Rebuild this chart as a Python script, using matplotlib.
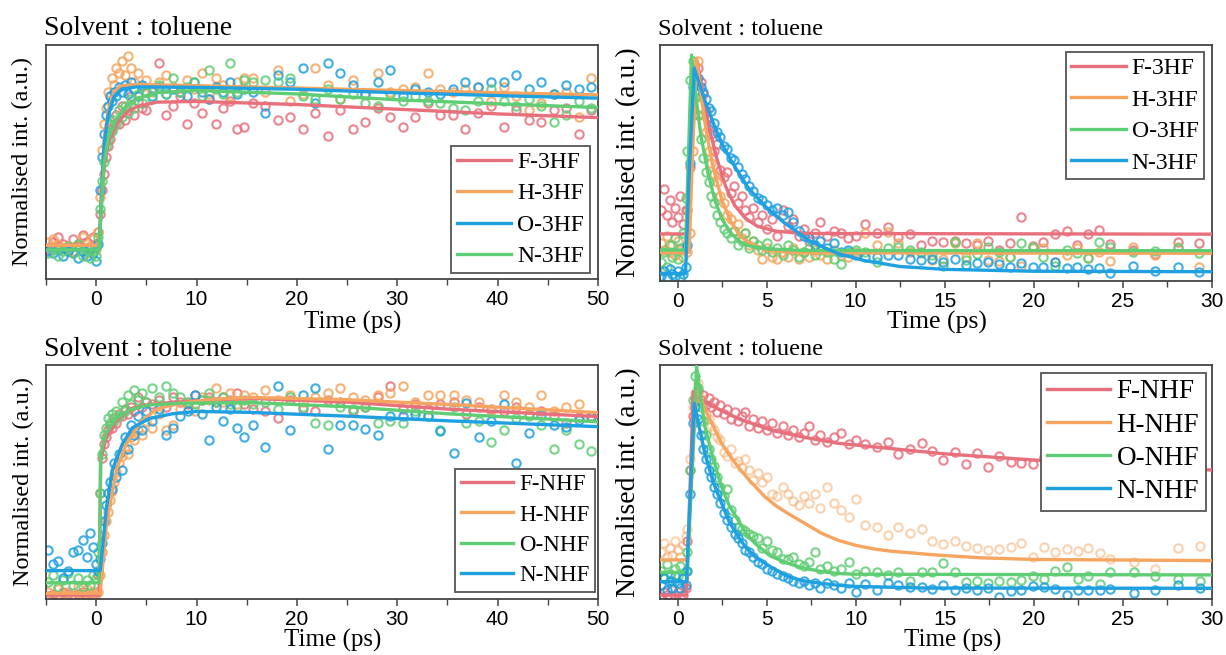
import matplotlib.pyplot as plt
from matplotlib.ticker import MultipleLocator

plt.rcParams['font.family'] = ['Liberation Serif', 'DejaVu Serif']

RED = '#e8707d'
ORANGE = '#f5a55f'
GREEN = '#5fcd73'
BLUE = '#1ea0e1'

# delay grids (ps)
t_long = [-4.8, -4.3, -3.8, -3.3, -2.8, -2.3, -1.8, -1.3, -0.9, -0.6, -0.3, 0.0,
          0.2, 0.4, 0.6, 0.8, 1.0, 1.2, 1.4, 1.6, 1.8, 2.0, 2.3, 2.6, 2.9, 3.2, 3.5, 3.8, 4.2, 4.6, 5.0,
          5.6, 6.3, 7.0, 7.7, 8.4, 9.1, 9.8, 10.5, 11.2, 11.9, 12.6, 13.3, 14.0, 14.7,
          15.6, 16.8, 18.1, 19.3, 20.6, 21.8, 23.1, 24.3, 25.6, 26.8, 28.1, 29.3, 30.6, 31.8,
          33.1, 34.3, 35.6, 36.8, 38.1, 39.3, 40.6, 41.8, 43.1, 44.3, 45.6, 46.8, 48.1, 49.3]

t_short = [-0.9, -0.75, -0.6, -0.45, -0.3, -0.15, 0.0, 0.15, 0.3, 0.45,
           0.55, 0.7, 0.85, 1.0, 1.15, 1.3, 1.45, 1.6, 1.75, 1.9, 2.05, 2.2, 2.4, 2.6, 2.8,
           3.0, 3.2, 3.4, 3.6, 3.8, 4.0, 4.25, 4.5, 4.75, 5.0, 5.3, 5.6, 5.9, 6.2, 6.5,
           6.8, 7.1, 7.4, 7.7, 8.0, 8.4, 8.8, 9.2, 9.6, 10.0,
           10.55, 11.2, 11.8, 12.4, 13.05, 13.7, 14.3, 14.9, 15.6, 16.2, 16.8, 17.45, 18.05, 18.7,
           19.3, 19.95, 20.55, 21.2, 21.85, 22.45, 23.05, 23.7, 24.3, 25.6, 26.8, 28.1, 29.3]

# ---- top left: 3HF rise ----
a_f = [0.13, 0.16, 0.18, 0.15, 0.12, 0.17, 0.14, 0.19, 0.16, 0.13, 0.18, 0.15,
       0.20, 0.28, 0.38, 0.45, 0.52, 0.57, 0.60, 0.64, 0.66, 0.70, 0.66, 0.74, 0.68, 0.72, 0.78, 0.70, 0.76, 0.73, 0.72,
       0.81, 0.92, 0.70, 0.74, 0.78, 0.66, 0.75, 0.71, 0.77, 0.66, 0.73, 0.76, 0.64, 0.65,
       0.75, 0.74, 0.68, 0.69, 0.64, 0.71, 0.61, 0.72, 0.64, 0.67, 0.73, 0.69, 0.65, 0.69,
       0.75, 0.70, 0.70, 0.64, 0.71, 0.74, 0.65, 0.72, 0.68, 0.67, 0.72, 0.73, 0.62, 0.72]
a_h = [0.16, 0.17, 0.15, 0.13, 0.14, 0.12, 0.15, 0.18, 0.11, 0.14, 0.17, 0.13,
       0.20, 0.35, 0.55, 0.66, 0.73, 0.80, 0.78, 0.86, 0.83, 0.90, 0.88, 0.93, 0.87, 0.95, 0.90, 0.84, 0.88, 0.82, 0.85,
       0.80, 0.84, 0.87, 0.82, 0.80, 0.85, 0.81, 0.88, 0.79, 0.86, 0.83, 0.78, 0.84, 0.86,
       0.86, 0.80, 0.89, 0.76, 0.79, 0.90, 0.83, 0.77, 0.85, 0.79, 0.88, 0.80, 0.81, 0.82,
       0.88, 0.81, 0.80, 0.81, 0.82, 0.76, 0.82, 0.78, 0.72, 0.75, 0.79, 0.80, 0.69, 0.86]
a_o = [0.12, 0.11, 0.13, 0.10, 0.12, 0.11, 0.09, 0.12, 0.10, 0.13, 0.11, 0.08,
       0.15, 0.38, 0.52, 0.62, 0.70, 0.74, 0.78, 0.76, 0.80, 0.78, 0.82, 0.80, 0.83, 0.79, 0.84, 0.81, 0.78, 0.83, 0.80,
       0.78, 0.82, 0.79, 0.81, 0.80, 0.78, 0.84, 0.80, 0.77, 0.82, 0.80, 0.84, 0.79, 0.81,
       0.80, 0.71, 0.87, 0.84, 0.90, 0.75, 0.92, 0.88, 0.83, 0.79, 0.84, 0.89, 0.78, 0.81,
       0.80, 0.79, 0.81, 0.84, 0.82, 0.84, 0.84, 0.87, 0.81, 0.84, 0.79, 0.83, 0.81, 0.82]
a_n = [0.11, 0.13, 0.10, 0.12, 0.14, 0.11, 0.15, 0.10, 0.13, 0.09, 0.12, 0.10,
       0.18, 0.30, 0.42, 0.50, 0.57, 0.60, 0.66, 0.63, 0.68, 0.66, 0.72, 0.69, 0.74, 0.71, 0.77, 0.73, 0.79, 0.75, 0.80,
       0.77, 0.83, 0.79, 0.86, 0.80, 0.82, 0.84, 0.78, 0.89, 0.81, 0.79, 0.92, 0.80, 0.85,
       0.84, 0.85, 0.84, 0.86, 0.78, 0.77, 0.81, 0.77, 0.79, 0.75, 0.74, 0.79, 0.76, 0.78,
       0.76, 0.75, 0.73, 0.72, 0.76, 0.81, 0.76, 0.74, 0.77, 0.74, 0.67, 0.70, 0.76, 0.73]

a_fit_f_t = [-5, 0.3, 0.5, 0.8, 1.2, 2, 3, 4, 6, 10, 20, 30, 40, 50]
a_fit_f = [0.145, 0.145, 0.30, 0.48, 0.58, 0.66, 0.71, 0.735, 0.755, 0.758, 0.745, 0.725, 0.705, 0.689]
a_fit_h_t = [-5, 0.3, 0.5, 0.8, 1.2, 1.8, 2.5, 4, 10, 20, 30, 40, 50]
a_fit_h = [0.145, 0.145, 0.35, 0.60, 0.72, 0.80, 0.825, 0.83, 0.825, 0.815, 0.805, 0.795, 0.786]
a_fit_o_t = [-5, 0.3, 0.5, 0.8, 1.2, 1.8, 2.5, 4, 10, 20, 30, 40, 50]
a_fit_o = [0.125, 0.125, 0.33, 0.58, 0.70, 0.78, 0.81, 0.82, 0.818, 0.81, 0.795, 0.783, 0.772]
a_fit_n_t = [-5, 0.3, 0.5, 0.8, 1.2, 2, 3, 4, 6, 10, 20, 30, 40, 50]
a_fit_n = [0.125, 0.125, 0.30, 0.50, 0.60, 0.68, 0.74, 0.77, 0.795, 0.805, 0.79, 0.765, 0.748, 0.732]

# ---- top right: 3HF decay ----
b_f = [0.30, 0.39, 0.28, 0.34, 0.25, 0.31, 0.27, 0.36, 0.24, 0.30,
       0.30, 0.48, 0.70, 0.86, 0.90, 0.84, 0.79, 0.72, 0.66, 0.62, 0.55, 0.58, 0.47, 0.44, 0.46,
       0.37, 0.40, 0.33, 0.36, 0.30, 0.27, 0.31, 0.25, 0.28, 0.22, 0.26, 0.19, 0.30, 0.23, 0.26,
       0.19, 0.22, 0.17, 0.20, 0.25, 0.19, 0.21, 0.20, 0.18, 0.19,
       0.24, 0.20, 0.226, 0.186, 0.198, 0.15, 0.169, 0.164, 0.169, 0.16, 0.15, 0.17, 0.13, 0.16,
       0.268, 0.147, 0.165, 0.198, 0.21, 0.15, 0.198, 0.215, 0.154, 0.13, 0.113, 0.164, 0.158]
b_h = [0.16, 0.13, 0.19, 0.12, 0.15, 0.11, 0.17, 0.13, 0.10, 0.14,
       0.12, 0.20, 0.55, 0.88, 0.93, 0.78, 0.70, 0.63, 0.55, 0.50, 0.45, 0.42, 0.36, 0.33, 0.28,
       0.26, 0.21, 0.24, 0.18, 0.20, 0.15, 0.17, 0.13, 0.09, 0.14, 0.10, 0.09, 0.12, 0.10, 0.14,
       0.09, 0.12, 0.10, 0.13, 0.11, 0.09, 0.13, 0.11, 0.10, 0.12,
       0.20, 0.151, 0.208, 0.158, 0.12, 0.119, 0.088, 0.09, 0.158, 0.102, 0.158, 0.088, 0.085, 0.102,
       0.062, 0.137, 0.137, 0.081, 0.11, 0.137, 0.095, 0.12, 0.085, 0.141, 0.109, 0.141, 0.056]
b_o = [0.08, 0.12, 0.06, 0.15, 0.10, 0.18, 0.09, 0.14, 0.20, 0.35,
       0.55, 0.85, 0.93, 0.78, 0.70, 0.60, 0.52, 0.46, 0.42, 0.36, 0.33, 0.28, 0.25, 0.22, 0.20,
       0.18, 0.21, 0.15, 0.17, 0.20, 0.14, 0.17, 0.15, 0.13, 0.16, 0.12, 0.14, 0.11, 0.15, 0.13,
       0.10, 0.12, 0.14, 0.11, 0.13, 0.12, 0.09, 0.07, 0.12, 0.13,
       0.12, 0.08, 0.14, 0.141, 0.13, 0.123, 0.11, 0.062, 0.165, 0.088, 0.115, 0.141, 0.12, 0.099,
       0.158, 0.141, 0.102, 0.062, 0.13, 0.116, 0.095, 0.165, 0.141, 0.12, 0.127, 0.137, 0.116]
b_n = [0.02, 0.04, 0.01, 0.05, 0.03, 0.02, 0.04, 0.01, 0.03, 0.06,
       0.15, 0.50, 0.82, 0.88, 0.86, 0.82, 0.80, 0.77, 0.73, 0.72, 0.67, 0.63, 0.61, 0.57, 0.56,
       0.52, 0.51, 0.48, 0.45, 0.43, 0.40, 0.38, 0.35, 0.34, 0.32, 0.30, 0.31, 0.28, 0.29, 0.25,
       0.21, 0.19, 0.18, 0.15, 0.17, 0.14, 0.16, 0.12, 0.13, 0.11,
       0.10, 0.10, 0.11, 0.11, 0.09, 0.088, 0.092, 0.081, 0.092, 0.066, 0.076, 0.078, 0.071, 0.059,
       0.073, 0.059, 0.059, 0.081, 0.052, 0.056, 0.049, 0.052, 0.034, 0.062, 0.04, 0.059, 0.038]

b_fit_f_t = [-1, 0.55, 0.8, 1.1, 1.4, 1.8, 2.2, 2.7, 3.2, 3.8, 4.5, 5.5, 7, 30]
b_fit_f = [0.198, 0.198, 0.6, 0.93, 0.80, 0.64, 0.52, 0.40, 0.32, 0.265, 0.23, 0.21, 0.20, 0.197]
b_fit_h_t = [-1, 0.65, 0.85, 1.07, 1.3, 1.6, 2.0, 2.5, 3.0, 3.5, 4.0, 5.0, 6.5, 30]
b_fit_h = [0.12, 0.12, 0.55, 0.942, 0.80, 0.64, 0.48, 0.34, 0.25, 0.19, 0.16, 0.13, 0.118, 0.116]
b_fit_o_t = [-1, 0.45, 0.6, 0.79, 1.0, 1.3, 1.7, 2.1, 2.5, 3.0, 3.5, 4.0, 5.0, 7, 30]
b_fit_o = [0.13, 0.13, 0.5, 0.956, 0.80, 0.62, 0.46, 0.34, 0.26, 0.20, 0.165, 0.148, 0.135, 0.128, 0.127]
b_fit_n_t = [-1, 0.45, 0.65, 0.94, 1.2, 1.6, 2.0, 2.5, 3.0, 3.5, 4.0, 5.0, 6.0, 7.5, 9.0, 10.5, 12.5, 15, 20, 30]
b_fit_n = [0.03, 0.03, 0.45, 0.90, 0.84, 0.75, 0.67, 0.58, 0.51, 0.45, 0.39, 0.31, 0.245, 0.165,
           0.115, 0.085, 0.06, 0.048, 0.04, 0.038]

# ---- bottom left: NHF rise ----
c_f = [0.01, 0.02, 0.01, 0.03, 0.02, 0.01, 0.02, 0.03, 0.01, 0.02, 0.01, 0.03,
       0.10, 0.45, 0.60, 0.66, 0.69, 0.72, 0.74, 0.73, 0.77, 0.75, 0.79, 0.78, 0.81, 0.79, 0.82, 0.80, 0.86, 0.82, 0.84,
       0.83, 0.85, 0.82, 0.86, 0.84, 0.83, 0.87, 0.85, 0.86, 0.84, 0.86, 0.85, 0.88, 0.83,
       0.81, 0.80, 0.77, 0.85, 0.81, 0.80, 0.85, 0.84, 0.80, 0.82, 0.86, 0.91, 0.81, 0.83,
       0.81, 0.83, 0.84, 0.79, 0.82, 0.81, 0.80, 0.82, 0.79, 0.80, 0.78, 0.75, 0.775, 0.78]
c_h = [0.03, 0.01, 0.04, 0.02, 0.03, 0.01, 0.05, 0.02, 0.04, 0.02, 0.03, 0.02,
       0.03, 0.10, 0.20, 0.27, 0.33, 0.37, 0.42, 0.46, 0.50, 0.54, 0.58, 0.61, 0.64, 0.62, 0.69, 0.68, 0.72, 0.70, 0.76,
       0.73, 0.79, 0.72, 0.74, 0.81, 0.84, 0.80, 0.86, 0.85, 0.90, 0.84, 0.88, 0.83, 0.87,
       0.86, 0.89, 0.85, 0.87, 0.84, 0.86, 0.88, 0.90, 0.86, 0.85, 0.87, 0.88, 0.91, 0.84,
       0.87, 0.87, 0.87, 0.85, 0.84, 0.80, 0.87, 0.84, 0.82, 0.87, 0.80, 0.82, 0.83, 0.78]
c_o = [0.07, 0.10, 0.05, 0.08, 0.11, 0.06, 0.09, 0.05, 0.08, 0.06, 0.10, 0.09,
       0.20, 0.45, 0.62, 0.70, 0.73, 0.77, 0.75, 0.79, 0.76, 0.80, 0.78, 0.84, 0.80, 0.87, 0.83, 0.89, 0.85, 0.88, 0.84,
       0.90, 0.86, 0.91, 0.88, 0.86, 0.84, 0.83, 0.85, 0.88, 0.84, 0.86, 0.83, 0.82, 0.85,
       0.83, 0.84, 0.81, 0.86, 0.82, 0.75, 0.74, 0.82, 0.81, 0.82, 0.75, 0.76, 0.75, 0.80,
       0.78, 0.72, 0.82, 0.75, 0.76, 0.67, 0.72, 0.77, 0.78, 0.74, 0.64, 0.72, 0.66, 0.63]
c_n = [0.21, 0.15, 0.16, 0.09, 0.12, 0.20, 0.21, 0.25, 0.18, 0.28, 0.22, 0.15,
       0.12, 0.17, 0.24, 0.33, 0.40, 0.45, 0.50, 0.47, 0.58, 0.52, 0.62, 0.55, 0.69, 0.64, 0.74, 0.70, 0.78, 0.72, 0.80,
       0.76, 0.81, 0.70, 0.73, 0.78, 0.80, 0.87, 0.79, 0.68, 0.82, 0.76, 0.81, 0.73, 0.69,
       0.74, 0.65, 0.91, 0.72, 0.87, 0.90, 0.64, 0.74, 0.74, 0.725, 0.70, 0.78, 0.78, 0.79,
       0.78, 0.717, 0.624, 0.838, 0.69, 0.76, 0.83, 0.578, 0.709, 0.785, 0.742, 0.735, 0.763, 0.778]

c_fit_f_t = [-5, 0.3, 0.45, 1.0, 2.0, 3.3, 5.3, 8, 12, 15.3, 25, 35, 50]
c_fit_f = [0.016, 0.016, 0.59, 0.69, 0.76, 0.81, 0.83, 0.84, 0.85, 0.856, 0.84, 0.81, 0.778]
c_fit_h_t = [-5, 0.4, 1.0, 2.0, 3.0, 4.3, 6.0, 8.3, 11.6, 15.3, 25, 35, 50]
c_fit_h = [0.023, 0.023, 0.31, 0.55, 0.66, 0.75, 0.81, 0.835, 0.852, 0.86, 0.85, 0.83, 0.795]
c_fit_o_t = [-5, 0.3, 0.45, 1.0, 2.0, 3.3, 5.3, 8.3, 15.3, 25, 35, 50]
c_fit_o = [0.068, 0.068, 0.62, 0.71, 0.77, 0.806, 0.828, 0.835, 0.838, 0.82, 0.79, 0.756]
c_fit_n_t = [-5, 0.4, 0.6, 1.0, 1.6, 2.6, 3.6, 5.3, 7.6, 10, 15.3, 25, 35, 50]
c_fit_n = [0.12, 0.12, 0.2, 0.38, 0.55, 0.66, 0.73, 0.77, 0.79, 0.80, 0.796, 0.78, 0.76, 0.735]

# ---- bottom right: NHF decay ----
d_f = [0.01, 0.03, 0.02, 0.01, 0.04, 0.02, 0.03, 0.01, 0.02, 0.05,
       0.25, 0.55, 0.78, 0.86, 0.89, 0.85, 0.87, 0.83, 0.86, 0.82, 0.84, 0.80, 0.83, 0.79, 0.81,
       0.77, 0.80, 0.76, 0.78, 0.80, 0.74, 0.77, 0.73, 0.76, 0.72, 0.75, 0.71, 0.74, 0.70, 0.72,
       0.69, 0.71, 0.74, 0.68, 0.70, 0.67, 0.69, 0.71, 0.66, 0.68,
       0.66, 0.65, 0.672, 0.618, 0.639, 0.668, 0.634, 0.594, 0.629, 0.577, 0.622, 0.565, 0.611, 0.584,
       0.582, 0.575, 0.605, 0.59, 0.57, 0.60, 0.56, 0.58, 0.57, 0.55, 0.57, 0.54, 0.56]
d_h = [0.20, 0.24, 0.18, 0.22, 0.19, 0.25, 0.21, 0.18, 0.23, 0.27,
       0.30, 0.60, 0.82, 0.88, 0.92, 0.86, 0.83, 0.79, 0.77, 0.74, 0.72, 0.69, 0.68, 0.63, 0.61,
       0.64, 0.58, 0.59, 0.56, 0.60, 0.55, 0.51, 0.54, 0.50, 0.52, 0.45, 0.44, 0.48, 0.45, 0.42,
       0.40, 0.44, 0.41, 0.45, 0.39, 0.48, 0.41, 0.38, 0.35, 0.426,
       0.317, 0.31, 0.274, 0.31, 0.284, 0.30, 0.249, 0.236, 0.249, 0.227, 0.217, 0.21, 0.216, 0.224,
       0.241, 0.179, 0.224, 0.20, 0.214, 0.206, 0.22, 0.196, 0.172, 0.158, 0.128, 0.22, 0.227]
d_o = [0.12, 0.09, 0.15, 0.11, 0.08, 0.13, 0.10, 0.14, 0.09, 0.12,
       0.20, 0.55, 0.85, 0.95, 0.90, 0.82, 0.76, 0.70, 0.64, 0.60, 0.57, 0.52, 0.48, 0.44, 0.47,
       0.38, 0.34, 0.31, 0.30, 0.29, 0.28, 0.27, 0.26, 0.22, 0.25, 0.21, 0.20, 0.17, 0.17, 0.18,
       0.15, 0.14, 0.16, 0.20, 0.13, 0.14, 0.12, 0.13, 0.16, 0.11,
       0.12, 0.118, 0.104, 0.118, 0.08, 0.115, 0.115, 0.153, 0.115, 0.075, 0.08, 0.071, 0.078, 0.075,
       0.082, 0.099, 0.087, 0.121, 0.139, 0.087, 0.10, 0.065, 0.115, 0.115, 0.099, 0.087, 0.08]
d_n = [0.06, 0.09, 0.04, 0.08, 0.05, 0.10, 0.07, 0.05, 0.09, 0.06,
       0.12, 0.45, 0.75, 0.82, 0.77, 0.70, 0.64, 0.60, 0.55, 0.52, 0.48, 0.45, 0.41, 0.37, 0.34,
       0.31, 0.28, 0.26, 0.24, 0.21, 0.20, 0.18, 0.16, 0.15, 0.13, 0.12, 0.11, 0.10, 0.09, 0.08,
       0.07, 0.08, 0.06, 0.07, 0.05, 0.07, 0.06, 0.05, 0.07, 0.03,
       0.065, 0.04, 0.068, 0.061, 0.051, 0.054, 0.043, 0.06, 0.04, 0.047, 0.04, 0.05, 0.011, 0.036,
       0.04, 0.057, 0.054, 0.043, 0.018, 0.04, 0.04, 0.04, 0.043, 0.028, 0.04, 0.06, 0.047]

d_fit_f_t = [-1, 0.5, 0.88, 1.5, 3.4, 5.3, 7.15, 9.0, 11, 15, 20, 25, 30]
d_fit_f = [0.018, 0.018, 0.885, 0.84, 0.77, 0.72, 0.69, 0.665, 0.65, 0.62, 0.594, 0.57, 0.551]
d_fit_h_t = [-1, 0.55, 1.07, 1.6, 2.0, 2.47, 3.0, 3.4, 4.0, 4.9, 5.5, 6.2, 7.0, 8.1, 9.0, 10, 11, 12,
             14.5, 17, 20, 30]
d_fit_h = [0.168, 0.168, 0.906, 0.80, 0.74, 0.665, 0.605, 0.565, 0.51, 0.4375, 0.40, 0.366, 0.33,
           0.281, 0.252, 0.23, 0.215, 0.205, 0.189, 0.177, 0.17, 0.165]
d_fit_o_t = [-1, 0.55, 1.07, 1.3, 1.54, 2.0, 2.47, 2.9, 3.4, 3.85, 4.34, 5.2, 6.2, 7.0, 8.1, 9.0, 10, 30]
d_fit_o = [0.115, 0.115, 0.994, 0.86, 0.735, 0.60, 0.48, 0.40, 0.338, 0.28, 0.239, 0.185, 0.153,
           0.135, 0.118, 0.11, 0.107, 0.104]
d_fit_n_t = [-1, 0.5, 0.94, 1.2, 1.54, 2.0, 2.47, 2.9, 3.4, 3.85, 4.34, 5.3, 6.2, 7.0, 8.1, 9.0, 10, 14, 30]
d_fit_n = [0.075, 0.075, 0.835, 0.74, 0.62, 0.50, 0.41, 0.33, 0.267, 0.22, 0.182, 0.135, 0.097,
           0.08, 0.068, 0.06, 0.055, 0.048, 0.047]


fig = plt.figure(figsize=(12.26, 6.55), dpi=100)


def setup(rect, xlim, major, minor, title_fs, title_y, ylabel, ylabel_fs, ylabel_x,
          xlabel_fs, xlabel_pos):
    ax = fig.add_axes(rect)
    ax.set_xlim(*xlim)
    ax.set_ylim(0, 1)
    ax.xaxis.set_major_locator(MultipleLocator(major))
    ax.xaxis.set_minor_locator(MultipleLocator(minor))
    ax.set_yticks([])
    ax.tick_params(axis='x', which='major', direction='out', length=5, width=1.1,
                   color='#444444', pad=3, labelsize=15, labelfontfamily='Liberation Sans')
    ax.tick_params(axis='x', which='minor', direction='out', length=4, width=1.0, color='#444444')
    for s in ax.spines.values():
        s.set_color('#444444')
        s.set_linewidth(1.3)
    ax.text(-0.004, title_y, 'Solvent : toluene', transform=ax.transAxes,
            ha='left', va='baseline', fontsize=title_fs)
    ax.set_ylabel(ylabel, fontsize=ylabel_fs)
    ax.yaxis.set_label_coords(ylabel_x, 0.5)
    ax.set_xlabel('Time (ps)', fontsize=xlabel_fs)
    ax.xaxis.set_label_coords(*xlabel_pos)
    return ax


def draw(ax, t, series, fits, colors, labels, alphas, leg):
    for pts, c, a in zip(series, colors, alphas):
        ax.plot(t, pts, 'o', ms=6, mfc='none', mec=c, mew=1.5, alpha=a, zorder=2)
    for (ft, fy), c, lab in zip(fits, colors, labels):
        ax.plot(ft, fy, '-', color=c, lw=2.4, label=lab, zorder=3)
    loc, anchor, fs, spacing = leg
    lg = ax.legend(loc=loc, bbox_to_anchor=anchor, borderaxespad=0, fontsize=fs,
                   handlelength=2.3, handletextpad=0.25, labelspacing=spacing, borderpad=0.25,
                   fancybox=False, framealpha=1, edgecolor='#555555')
    lg.get_frame().set_linewidth(1.3)
    lg.set_zorder(5)


ax1 = setup([0.0375, 0.5736, 0.4502, 0.3582], (-5, 50), 10, 5, 20, 1.04,
            'Normalised int. (a.u.)', 17.5, -0.024, 18, (0.555, -0.135))
draw(ax1, t_long, [a_f, a_h, a_o, a_n],
     [(a_fit_f_t, a_fit_f), (a_fit_h_t, a_fit_h), (a_fit_o_t, a_fit_o), (a_fit_n_t, a_fit_n)],
     [RED, ORANGE, BLUE, GREEN], ['F-3HF', 'H-3HF', 'O-3HF', 'N-3HF'],
     [0.85, 0.85, 0.85, 0.85], ('lower right', (0.9855, 0.0256), 17, 0.42))

ax2 = setup([0.5381, 0.5715, 0.4502, 0.3603], (-1, 30), 5, 2.5, 17.5, 1.04,
            'Nomalised int. (a.u.)', 20, -0.033, 18.5, (0.502, -0.127))
draw(ax2, t_short, [b_f, b_h, b_o, b_n],
     [(b_fit_f_t, b_fit_f), (b_fit_h_t, b_fit_h), (b_fit_o_t, b_fit_o), (b_fit_n_t, b_fit_n)],
     [RED, ORANGE, GREEN, BLUE], ['F-3HF', 'H-3HF', 'O-3HF', 'N-3HF'],
     [0.85, 0.85, 0.85, 0.85], ('upper right', (0.987, 0.970), 17, 0.42))

ax3 = setup([0.0375, 0.0860, 0.4503, 0.3573], (-5, 50), 10, 5, 20, 1.037,
            'Normalised int. (a.u.)', 17.5, -0.022, 18, (0.519, -0.128))
draw(ax3, t_long, [c_f, c_h, c_o, c_n],
     [(c_fit_f_t, c_fit_f), (c_fit_h_t, c_fit_h), (c_fit_o_t, c_fit_o), (c_fit_n_t, c_fit_n)],
     [RED, ORANGE, GREEN, BLUE], ['F-NHF', 'H-NHF', 'O-NHF', 'N-NHF'],
     [0.85, 0.85, 0.85, 0.85], ('lower right', (0.9946, 0.03), 16.5, 0.4))

ax4 = setup([0.5381, 0.0850, 0.4505, 0.3582], (-1, 30), 5, 2.5, 17.5, 1.043,
            'Nomalised int. (a.u.)', 20, -0.033, 18, (0.53, -0.128))
draw(ax4, t_short, [d_f, d_h, d_o, d_n],
     [(d_fit_f_t, d_fit_f), (d_fit_h_t, d_fit_h), (d_fit_o_t, d_fit_o), (d_fit_n_t, d_fit_n)],
     [RED, ORANGE, GREEN, BLUE], ['F-NHF', 'H-NHF', 'O-NHF', 'N-NHF'],
     [0.85, 0.5, 0.85, 0.85], ('upper right', (0.989, 0.966), 19.5, 0.3))

fig.savefig('out.png', dpi=100)
